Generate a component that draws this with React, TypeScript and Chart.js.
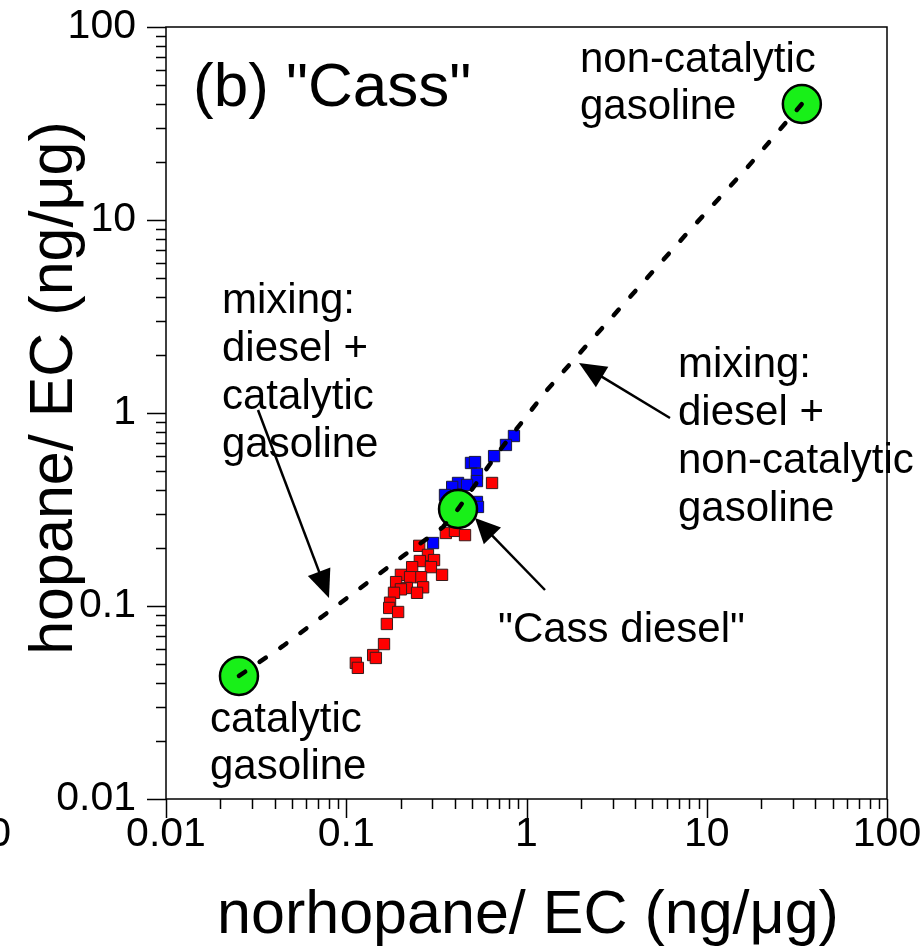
import { useEffect, useRef } from 'react';
import { Chart, registerables } from 'chart.js';

Chart.register(...registerables);

// ---- data ----
const RED_X = [0.644, 0.357, 0.401, 0.456, 0.254, 0.284, 0.307, 0.256, 0.232, 0.295, 0.340, 0.201, 0.260, 0.226, 0.189, 0.267, 0.217, 0.201, 0.247, 0.184, 0.175, 0.173, 0.194, 0.168, 0.162, 0.141, 0.146, 0.113, 0.116];
const RED_Y = [0.434, 0.239, 0.245, 0.233, 0.205, 0.184, 0.173, 0.171, 0.159, 0.159, 0.145, 0.145, 0.141, 0.141, 0.133, 0.125, 0.124, 0.122, 0.117, 0.117, 0.104, 0.0977, 0.0931, 0.0807, 0.0635, 0.0557, 0.0538, 0.0507, 0.0478];

const BLUE_X = [0.852, 0.769, 0.661, 0.492, 0.518, 0.531, 0.531, 0.417, 0.468, 0.387, 0.353, 0.531, 0.538, 0.303];
const BLUE_Y = [0.760, 0.683, 0.598, 0.551, 0.557, 0.483, 0.444, 0.434, 0.424, 0.414, 0.376, 0.346, 0.326, 0.212];

const SOURCE_NAMES = ['catalytic gasoline', 'Cass diesel', 'non-catalytic gasoline'];
const SOURCE_X = [0.0254, 0.417, 33.7];
const SOURCE_Y = [0.0434, 0.318, 39.9];

const MIX_X = [0.0254, 0.0446, 0.0743, 0.124, 0.2065, 0.344, 0.417, 0.713, 1.30, 1.98, 8.07, 16.7, 33.7];
const MIX_Y = [0.0434, 0.0621, 0.0888, 0.127, 0.1816, 0.2566, 0.318, 0.643, 1.315, 2.05, 8.87, 18.6, 39.9];

const DECADES = [0.01, 0.1, 1, 10, 100];
const TICK_LABELS = ['0.01', '0.1', '1', '10', '100'];

const X_TITLE = 'norhopane/ EC (ng/\u03BCg)';
const Y_TITLE = 'hopane/ EC (ng/\u03BCg)';
const PANEL_TITLE = '(b) "Cass"';

const FONT = "'Liberation Sans', Arial, Helvetica, sans-serif";

function arrow(ctx: CanvasRenderingContext2D, x1: number, y1: number, x2: number, y2: number, head: number, half: number) {
  const a = Math.atan2(y2 - y1, x2 - x1);
  const bx = x2 - head * Math.cos(a);
  const by = y2 - head * Math.sin(a);
  ctx.beginPath();
  ctx.moveTo(x1, y1);
  ctx.lineTo(bx + Math.cos(a) * 2, by + Math.sin(a) * 2);
  ctx.stroke();
  ctx.beginPath();
  ctx.moveTo(x2, y2);
  ctx.lineTo(bx + half * Math.sin(a), by - half * Math.cos(a));
  ctx.lineTo(bx - half * Math.sin(a), by + half * Math.cos(a));
  ctx.closePath();
  ctx.fill();
}

const overlay = {
  id: 'overlay',
  afterDraw(chart: any) {
    const ctx: CanvasRenderingContext2D = chart.ctx;
    const { left, right, top, bottom } = chart.chartArea;
    const xs = chart.scales.x;
    const ys = chart.scales.y;
    ctx.save();
    ctx.strokeStyle = '#000';
    ctx.fillStyle = '#000';
    ctx.lineWidth = 1.5;
    ctx.lineCap = 'butt';
    // frame
    ctx.strokeRect(left, top, right - left, bottom - top);
    // ticks
    ctx.beginPath();
    for (let d = 0; d < DECADES.length; d++) {
      for (let m = 1; m <= 9; m++) {
        const v = DECADES[d] * m;
        if (v > DECADES[DECADES.length - 1] * 1.0001) break;
        const len = m === 1 ? 19 : 10;
        const px = Math.round(xs.getPixelForValue(v)) + 0.5;
        ctx.moveTo(px, bottom);
        ctx.lineTo(px, bottom + len);
        const py = Math.round(ys.getPixelForValue(v)) + 0.5;
        ctx.moveTo(left, py);
        ctx.lineTo(left - len, py);
      }
    }
    ctx.stroke();
    // tick labels
    ctx.font = `41px ${FONT}`;
    ctx.textAlign = 'center';
    ctx.textBaseline = 'middle';
    DECADES.forEach((v, i) => {
      ctx.fillText(TICK_LABELS[i], xs.getPixelForValue(v), bottom + 36);
    });
    // cut-off label of the neighbouring panel at the far left
    ctx.textAlign = 'right';
    ctx.fillText('100', 11, bottom + 36);
    DECADES.forEach((v, i) => {
      ctx.fillText(TICK_LABELS[i], left - 30, ys.getPixelForValue(v));
    });
    // axis titles
    ctx.textAlign = 'center';
    ctx.textBaseline = 'alphabetic';
    ctx.font = `61px ${FONT}`;
    ctx.fillText(X_TITLE, 528, 933);
    ctx.save();
    ctx.translate(72, 388);
    ctx.rotate(-Math.PI / 2);
    ctx.font = `61px ${FONT}`;
    ctx.fillText(Y_TITLE, 0, 0);
    ctx.restore();
    // panel title
    ctx.textAlign = 'left';
    ctx.font = `62px ${FONT}`;
    ctx.fillText(PANEL_TITLE, 193, 106);
    // annotations
    ctx.font = `42px ${FONT}`;
    const lines = (arr: string[], x: number, y0: number, dy: number) => arr.forEach((s, i) => ctx.fillText(s, x, y0 + i * dy));
    lines(['non-catalytic', 'gasoline'], 580, 72, 47);
    lines(['mixing:', 'diesel +', 'catalytic', 'gasoline'], 222, 313, 48);
    lines(['mixing:', 'diesel +', 'non-catalytic', 'gasoline'], 678, 377, 48);
    lines(['catalytic', 'gasoline'], 210, 732, 47);
    ctx.fillText('"' + SOURCE_NAMES[1] + '"', 498, 642);
    // arrows
    ctx.lineWidth = 2.5;
    arrow(ctx, 258, 410, 329, 598, 28, 12);
    arrow(ctx, 670, 418, 579, 363, 27, 12);
    arrow(ctx, 545, 590, 475, 518, 25, 12);
    ctx.restore();
  },
};

export default function App() {
  const ref = useRef<HTMLCanvasElement | null>(null);
  useEffect(() => {
    document.body.style.margin = '0';
    const canvas = ref.current;
    if (!canvas) return;
    const pts = (xs: number[], ys: number[]) => xs.map((x, i) => ({ x, y: ys[i] }));
    const chart = new Chart(canvas, {
      type: 'scatter',
      data: {
        datasets: [
          {
            label: 'mixing',
            type: 'line',
            data: pts(MIX_X, MIX_Y),
            borderColor: '#000',
            borderWidth: 4.5,
            borderDash: [7.5, 17.5],
            borderCapStyle: 'round',
            pointRadius: 0,
            tension: 0,
            fill: false,
            order: 0,
          } as any,
          {
            label: 'sources',
            data: pts(SOURCE_X, SOURCE_Y),
            pointStyle: 'circle',
            pointRadius: 19,
            backgroundColor: '#18f018',
            borderColor: '#000',
            borderWidth: 2.5,
            order: 1,
          },
          {
            label: 'blue',
            data: pts(BLUE_X, BLUE_Y),
            pointStyle: 'rect',
            pointRadius: 8,
            backgroundColor: '#0000ff',
            borderColor: '#1a1a3a',
            borderWidth: 1,
            order: 2,
          },
          {
            label: 'red',
            data: pts(RED_X, RED_Y),
            pointStyle: 'rect',
            pointRadius: 8,
            backgroundColor: '#ff0000',
            borderColor: '#3a1a1a',
            borderWidth: 1,
            order: 3,
          },
        ],
      },
      options: {
        animation: false,
        responsive: false,
        devicePixelRatio: 1,
        layout: { padding: { left: 166, right: 36, top: 27, bottom: 149 } },
        plugins: { legend: { display: false }, tooltip: { enabled: false } },
        scales: {
          x: { type: 'logarithmic', min: 0.01, max: 100, display: false },
          y: { type: 'logarithmic', min: 0.01, max: 100, display: false },
        },
      },
      plugins: [overlay],
    });
    return () => chart.destroy();
  }, []);
  return (
    <div style={{ position: 'absolute', left: 0, top: 0, width: 923, height: 948, background: '#fff' }}>
      <canvas ref={ref} width={923} height={948} style={{ display: 'block' }} />
    </div>
  );
}
